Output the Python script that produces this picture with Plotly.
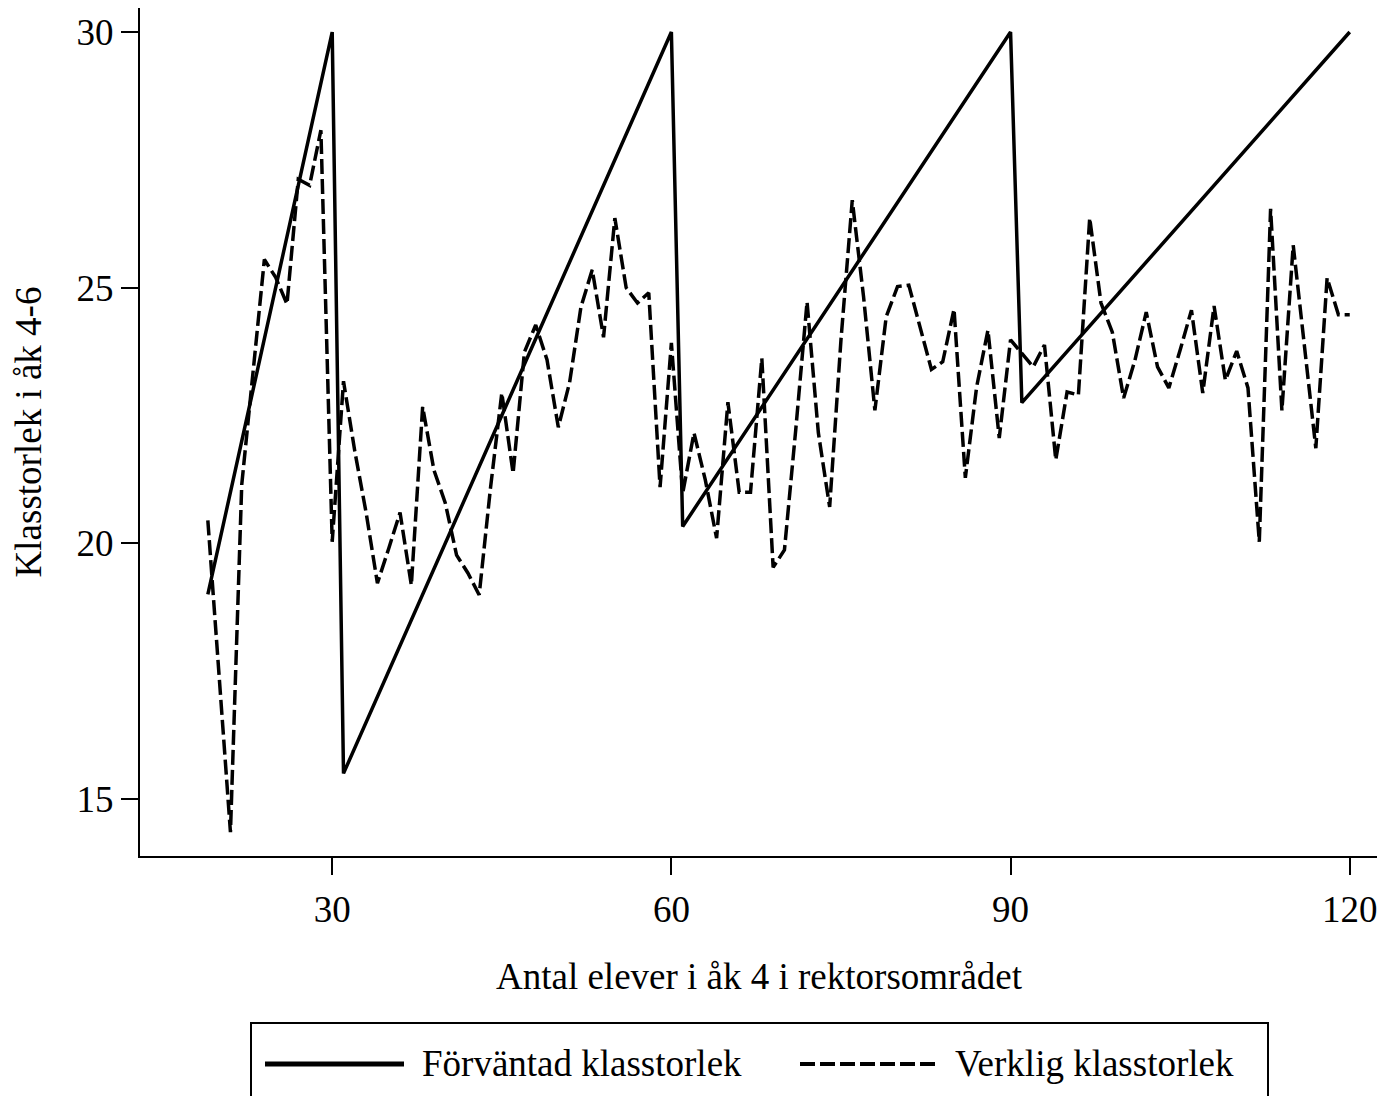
import plotly.graph_objects as go

# Expected class size (Förväntad klasstorlek) – breakpoints of the rule
exp_x = [19, 30, 31, 60, 61, 90, 91, 120]
exp_y = [19.0, 30.0, 15.5, 30.0, 20.33, 30.0, 22.75, 30.0]

# Actual class size (Verklig klasstorlek)
act_x = list(range(19, 121))
act_y = [
    20.45, 17.4, 14.35, 21.15, 23.4, 25.55, 25.2, 24.68, 27.12, 27.0,   # 19-28
    28.08, 20.03, 23.17, 21.8, 20.6, 19.22, 19.9, 20.6, 19.18, 22.67,   # 29-38
    21.43, 20.79, 19.77, 19.42, 18.99, 21.08, 22.94, 21.37, 23.74, 24.27,  # 39-48
    23.59, 22.27, 23.15, 24.62, 25.35, 24.03, 26.36, 25.0, 24.7, 24.9,  # 49-58
    21.1, 23.92, 20.98, 22.16, 21.24, 20.1, 22.76, 21.0, 21.0, 23.62,   # 59-68
    19.53, 19.87, 22.22, 24.72, 22.16, 20.71, 23.98, 26.71, 24.82, 22.6,  # 69-78
    24.43, 25.02, 25.05, 24.23, 23.4, 23.55, 24.58, 21.28, 23.06, 24.17,  # 79-88
    22.06, 23.98, 23.72, 23.45, 23.88, 21.63, 22.96, 22.9, 26.36, 24.7,  # 89-98
    24.13, 22.84, 23.58, 24.52, 23.45, 23.04, 23.78, 24.56, 22.94, 24.64,  # 99-108
    23.19, 23.76, 23.04, 20.03, 26.54, 22.6, 25.83, 23.84, 21.86, 25.19,  # 109-118
    24.47, 24.47,                                                        # 119-120
]

x_ticks = [30, 60, 90, 120]
y_ticks = [15, 20, 25, 30]

name_exp = "Förväntad klasstorlek"
name_act = "Verklig klasstorlek"
x_title = "Antal elever i åk 4 i rektorsområdet"
y_title = "Klasstorlek i åk 4-6"

FONT = "Liberation Serif, Times New Roman, serif"
FS = 37

fig = go.Figure()
fig.add_trace(go.Scatter(x=exp_x, y=exp_y, mode="lines", name=name_exp,
                         line=dict(color="black", width=3.5), showlegend=False))
fig.add_trace(go.Scatter(x=act_x, y=act_y, mode="lines", name=name_act,
                         line=dict(color="black", width=3.5, dash="15px,5px"),
                         showlegend=False))

# The page body adds an 8px offset; figure sized to fit the window.
OFF = 8
W, H = 1385 - OFF, 1096 - OFF
L, R, T, B = 132, 7, 0, 240
pw, ph = W - L - R, H - T - B


def px2x(screen_px):
    return (screen_px - OFF - L) / pw


def py2y(screen_py):
    return (H - B - (screen_py - OFF)) / ph


axis_common = dict(showline=True, linecolor="black", linewidth=2, ticks="outside",
                   ticklen=17, tickwidth=1.5, tickcolor="black", showgrid=False,
                   zeroline=False, automargin=False,
                   tickfont=dict(family=FONT, size=FS, color="black"))

fig.update_layout(
    width=W, height=H,
    margin=dict(l=L, r=R, t=T, b=B, autoexpand=False),
    paper_bgcolor="white", plot_bgcolor="white",
    font=dict(family=FONT, size=FS, color="black"),
    xaxis=dict(range=[13.0, 122.5], tickvals=x_ticks, ticklabelstandoff=3,
               title=dict(text=x_title, font=dict(family=FONT, size=FS), standoff=34),
               **axis_common),
    yaxis=dict(range=[13.884, 30.47], tickvals=y_ticks, ticklabelstandoff=0,
               title=dict(text=y_title, font=dict(family=FONT, size=FS), standoff=26),
               **axis_common),
    showlegend=False,
)

# Legend drawn as a framed box below the plot
ly = py2y(1064)
ty = py2y(1063)
fig.add_shape(type="rect", xref="paper", yref="paper",
              x0=px2x(251), x1=px2x(1268), y0=py2y(1120), y1=py2y(1023),
              line=dict(color="black", width=2), fillcolor="white", layer="above")
fig.add_shape(type="line", xref="paper", yref="paper",
              x0=px2x(265), x1=px2x(404), y0=ly, y1=ly,
              line=dict(color="black", width=5))
fig.add_shape(type="line", xref="paper", yref="paper",
              x0=px2x(800), x1=px2x(935), y0=ly, y1=ly,
              line=dict(color="black", width=4, dash="15px,5px"))
fig.add_annotation(xref="paper", yref="paper", x=px2x(420), y=ty, text=name_exp,
                   showarrow=False, xanchor="left", yanchor="middle",
                   font=dict(family=FONT, size=FS, color="black"))
fig.add_annotation(xref="paper", yref="paper", x=px2x(953), y=ty, text=name_act,
                   showarrow=False, xanchor="left", yanchor="middle",
                   font=dict(family=FONT, size=FS, color="black"))

fig.write_html("out.html")
